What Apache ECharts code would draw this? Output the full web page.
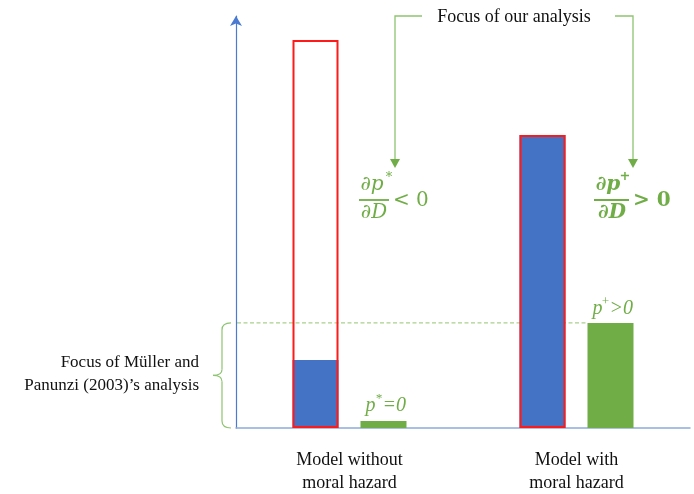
<!DOCTYPE html>
<html><head><meta charset="utf-8">
<script src="https://cdn.jsdelivr.net/npm/echarts@6/dist/echarts.min.js"></script>
<style>html,body{margin:0;padding:0;background:#fff}#c{width:694px;height:494px}</style>
</head><body><div id="c"></div>
<script>
const categories = ['Model without\nmoral hazard', 'Model with\nmoral hazard'];
const outlineValues = [94.2, 71.1];
const blueValues = [16.5, 71.1];
const greenValues = [1.7, 25.5];
const topNote = 'Focus of our analysis';
const leftNote = ['Focus of Müller and', 'Panunzi (2003)\u2019s analysis'];

const SERIF = '"Liberation Serif", "DejaVu Serif", serif';
const GREEN = '#70AD47';
const chart = echarts.init(document.getElementById('c'), null, {renderer: 'canvas'});
const BW = 46, GAP = '47.8%';
chart.setOption({
  animation: false,
  grid: {left: 236, right: 4, top: 16, bottom: 66, containLabel: false, outerBoundsMode: 'none'},
  xAxis: [{
    type: 'category', data: categories,
    axisLine: {lineStyle: {color: '#8EAADB', width: 1.5}},
    axisTick: {show: false},
    axisLabel: {fontFamily: SERIF, fontSize: 18, color: '#111', lineHeight: 23, margin: 21}
  }, {
    type: 'category', data: categories, show: false
  }],
  yAxis: {
    type: 'value', min: 0, max: 100,
    splitLine: {show: false}, axisTick: {show: false}, axisLabel: {show: false},
    axisLine: {show: true, lineStyle: {color: '#4A7BD0', width: 1.2}, symbol: ['none', 'arrow'], symbolSize: [9, 10]}
  },
  series: [
    {type: 'bar', xAxisIndex: 0, data: blueValues, barWidth: BW, barGap: GAP,
     itemStyle: {color: '#4472C4'}},
    {type: 'bar', xAxisIndex: 0, data: greenValues, barWidth: BW, barGap: GAP,
     itemStyle: {color: GREEN}},
    {type: 'bar', xAxisIndex: 1, data: outlineValues, barWidth: BW, barGap: GAP, z: 3,
     itemStyle: {color: 'rgba(0,0,0,0)', borderColor: '#FF1A1A', borderWidth: 2}},
    {type: 'bar', xAxisIndex: 1, data: ['-', '-'], barWidth: BW, barGap: GAP}
  ]
});

function draw() {
  const yDash = chart.convertToPixel({yAxisIndex: 0}, greenValues[1]);
  const yBase = chart.convertToPixel({yAxisIndex: 0}, 0);
  const yG1 = chart.convertToPixel({yAxisIndex: 0}, greenValues[0]);
  const c0 = chart.convertToPixel({xAxisIndex: 0}, 0);
  const c1 = chart.convertToPixel({xAxisIndex: 0}, 1);
  const off = (BW + 22) / 2;
  const g1x = c0 + off, g2x = c1 + off;
  const g2left = g2x - BW / 2;
  const els = [];
  els.push({type: 'line', z: 0, shape: {x1: 237, y1: yDash, x2: g2left, y2: yDash},
    style: {stroke: '#A9D18E', lineWidth: 1.3, lineDash: [4, 2.5]}});
  // brace
  const mid = (yDash + yBase) / 2;
  const xr = 231, xs = 222, xt = 213;
  const bs = {stroke: '#8DC470', lineWidth: 1.2, fill: null};
  els.push({type: 'bezierCurve', shape: {x1: xr, y1: yDash, cpx1: xs, cpy1: yDash, x2: xs, y2: yDash + 7}, style: bs});
  els.push({type: 'line', shape: {x1: xs, y1: yDash + 7, x2: xs, y2: mid - 6}, style: bs});
  els.push({type: 'bezierCurve', shape: {x1: xs, y1: mid - 6, cpx1: xs, cpy1: mid, x2: xt, y2: mid}, style: bs});
  els.push({type: 'bezierCurve', shape: {x1: xt, y1: mid, cpx1: xs, cpy1: mid, x2: xs, y2: mid + 6}, style: bs});
  els.push({type: 'line', shape: {x1: xs, y1: mid + 6, x2: xs, y2: yBase - 7}, style: bs});
  els.push({type: 'bezierCurve', shape: {x1: xs, y1: yBase - 7, cpx1: xs, cpy1: yBase, x2: xr, y2: yBase}, style: bs});
  els.push({type: 'text', x: 199, y: mid - 13, style: {text: leftNote[0], font: '17px ' + SERIF, fill: '#111', align: 'right', verticalAlign: 'middle'}});
  els.push({type: 'text', x: 199, y: mid + 10, style: {text: leftNote[1], font: '17px ' + SERIF, fill: '#111', align: 'right', verticalAlign: 'middle'}});
  // top note & arrows
  els.push({type: 'text', x: 514, y: 17, style: {text: topNote, font: '18px ' + SERIF, fill: '#111', align: 'center', verticalAlign: 'middle'}});
  const ax1 = 395, ax2 = 633, ay = 16, ah = 168;
  els.push({type: 'polyline', shape: {points: [[422, ay], [ax1, ay], [ax1, ah - 8]]}, style: {stroke: '#8DC470', lineWidth: 1.3, fill: null}});
  els.push({type: 'polyline', shape: {points: [[615, ay], [ax2, ay], [ax2, ah - 8]]}, style: {stroke: '#8DC470', lineWidth: 1.3, fill: null}});
  els.push({type: 'polygon', shape: {points: [[ax1 - 5, ah - 9], [ax1 + 5, ah - 9], [ax1, ah]]}, style: {fill: GREEN}});
  els.push({type: 'polygon', shape: {points: [[ax2 - 5, ah - 9], [ax2 + 5, ah - 9], [ax2, ah]]}, style: {fill: GREEN}});
  // formula 1
  const MF = '"DejaVu Serif", serif';
  els.push({type: 'text', x: 372, y: 185, style: {text: '∂p', font: 'italic 20px ' + MF, fill: GREEN, align: 'center', verticalAlign: 'middle'}});
  els.push({type: 'text', x: 389, y: 178, style: {text: '*', font: 'italic 13px ' + MF, fill: GREEN, align: 'center', verticalAlign: 'middle'}});
  els.push({type: 'line', shape: {x1: 359, y1: 200, x2: 389, y2: 200}, style: {stroke: GREEN, lineWidth: 1.8}});
  els.push({type: 'text', x: 374, y: 213, style: {text: '∂D', font: 'italic 20px ' + MF, fill: GREEN, align: 'center', verticalAlign: 'middle'}});
  els.push({type: 'text', x: 393, y: 201, style: {text: '< 0', font: '20px ' + MF, fill: GREEN, align: 'left', verticalAlign: 'middle'}});
  // formula 2
  els.push({type: 'text', x: 608, y: 185, style: {text: '∂p', font: 'italic bold 20px ' + MF, fill: GREEN, align: 'center', verticalAlign: 'middle'}});
  els.push({type: 'text', x: 625, y: 177, style: {text: '+', font: 'bold 13px ' + MF, fill: GREEN, align: 'center', verticalAlign: 'middle'}});
  els.push({type: 'line', shape: {x1: 594, y1: 200, x2: 629, y2: 200}, style: {stroke: GREEN, lineWidth: 2.2}});
  els.push({type: 'text', x: 612, y: 213, style: {text: '∂D', font: 'italic bold 20px ' + MF, fill: GREEN, align: 'center', verticalAlign: 'middle'}});
  els.push({type: 'text', x: 633, y: 201, style: {text: '> 0', font: 'bold 20px ' + MF, fill: GREEN, align: 'left', verticalAlign: 'middle'}});
  // green labels
  const lab = (cx, y, sup, rest) => {
    els.push({type: 'text', x: cx - 13, y: y, style: {text: 'p', font: 'italic 20px ' + SERIF, fill: GREEN, align: 'center', verticalAlign: 'middle'}});
    els.push({type: 'text', x: cx - 5, y: y - 7, style: {text: sup, font: 'italic 13px ' + SERIF, fill: GREEN, align: 'center', verticalAlign: 'middle'}});
    els.push({type: 'text', x: cx - 1, y: y, style: {text: rest, font: 'italic 20px ' + SERIF, fill: GREEN, align: 'left', verticalAlign: 'middle'}});
  };
  lab(g1x, yG1 - 15, '*', '=0');
  lab(g2x, yDash - 14, '+', '>0');
  chart.setOption({graphic: {elements: els}});
}
draw();
</script></body></html>
